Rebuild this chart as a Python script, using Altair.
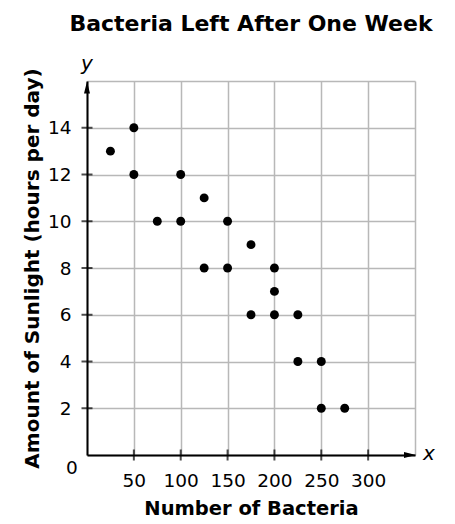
import altair as alt
import pandas as pd

# ---- data ----
bacteria = [25, 50, 50, 75, 100, 100, 125, 125, 150, 150, 175, 175, 200, 200, 200, 225, 225, 250, 250, 275]
sunlight = [13, 14, 12, 10, 12, 10, 11, 8, 10, 8, 9, 6, 8, 7, 6, 6, 4, 4, 2, 2]
x_tick_values = [50, 100, 150, 200, 250, 300]
y_tick_values = [2, 4, 6, 8, 10, 12, 14]
x_grid_values = [0, 50, 100, 150, 200, 250, 300, 350]
y_grid_values = [0, 2, 4, 6, 8, 10, 12, 14, 16]
x_max = 350
y_max = 16

FONT = "DejaVu Sans"
GRID = "#b8b8b8"

pts = pd.DataFrame({"x": bacteria, "y": sunlight})
xticks_df = pd.DataFrame({"v": x_tick_values, "z": [0] * len(x_tick_values)})
yticks_df = pd.DataFrame({"v": y_tick_values, "z": [0] * len(y_tick_values)})
top_arrow = pd.DataFrame({"x": [0], "y": [y_max]})
right_arrow = pd.DataFrame({"x": [x_max], "y": [0]})
ylab = pd.DataFrame({"x": [0], "y": [y_max], "t": ["y"]})
xlab = pd.DataFrame({"x": [x_max], "y": [0], "t": ["x"]})
zlab = pd.DataFrame({"x": [0], "y": [0], "t": ["0"]})

xs = alt.Scale(domain=[0, x_max], nice=False, zero=False)
ys = alt.Scale(domain=[0, y_max], nice=False, zero=False)

x_axis = alt.Axis(
    values=x_grid_values,
    labelExpr="(datum.value == 0 || datum.value == 350) ? '' : datum.label",
    grid=True, gridColor=GRID, gridWidth=1.5,
    ticks=False, domainColor="black", domainWidth=2,
    labelFont=FONT, labelFontSize=18.5, labelColor="black", labelPadding=16,
    title="Number of Bacteria", titleFont=FONT, titleFontSize=19.5,
    titleFontWeight="bold", titleColor="black", titlePadding=10,
)
y_axis = alt.Axis(
    values=y_grid_values,
    labelExpr="(datum.value == 0 || datum.value == 16) ? '' : datum.label",
    grid=True, gridColor=GRID, gridWidth=1.5,
    ticks=False, domainColor="black", domainWidth=2,
    labelFont=FONT, labelFontSize=18.5, labelColor="black", labelPadding=16,
    title="Amount of Sunlight (hours per day)", titleFont=FONT, titleFontSize=20,
    titleFontWeight="bold", titleColor="black", titlePadding=5,
)

points = alt.Chart(pts).mark_circle(size=80, color="black", opacity=1).encode(
    x=alt.X("x:Q", scale=xs, axis=x_axis),
    y=alt.Y("y:Q", scale=ys, axis=y_axis),
)

xt = alt.Chart(xticks_df).mark_tick(orient="vertical", size=11, thickness=2, color="black").encode(
    x=alt.X("v:Q", scale=xs), y=alt.Y("z:Q", scale=ys)
)
yt = alt.Chart(yticks_df).mark_tick(orient="horizontal", size=11, thickness=2, color="black").encode(
    y=alt.Y("v:Q", scale=ys), x=alt.X("z:Q", scale=xs)
)

up = alt.Chart(top_arrow).mark_point(
    shape="M0,-1L0.5,1L-0.5,1Z", size=144, filled=True, color="black", opacity=1, yOffset=6.5
).encode(x=alt.X("x:Q", scale=xs), y=alt.Y("y:Q", scale=ys))
right = alt.Chart(right_arrow).mark_point(
    shape="M1,0L-1,0.5L-1,-0.5Z", size=144, filled=True, color="black", opacity=1, xOffset=-5
).encode(x=alt.X("x:Q", scale=xs), y=alt.Y("y:Q", scale=ys))

t_y = alt.Chart(ylab).mark_text(font=FONT, fontSize=20, fontStyle="italic", color="black", dy=-17).encode(
    x=alt.X("x:Q", scale=xs), y=alt.Y("y:Q", scale=ys), text="t:N")
t_x = alt.Chart(xlab).mark_text(font=FONT, fontSize=20, fontStyle="italic", color="black", dx=14, dy=-1).encode(
    x=alt.X("x:Q", scale=xs), y=alt.Y("y:Q", scale=ys), text="t:N")
t_0 = alt.Chart(zlab).mark_text(font=FONT, fontSize=18.5, color="black", dx=-15, dy=13).encode(
    x=alt.X("x:Q", scale=xs), y=alt.Y("y:Q", scale=ys), text="t:N")

chart = alt.layer(points, xt, yt, up, right, t_y, t_x, t_0).properties(
    width=328, height=374,
    title=alt.Title("Bacteria Left After One Week", font=FONT, fontSize=22,
                    fontWeight="bold", color="black", anchor="middle", offset=18),
    autosize=alt.AutoSizeParams(type="none"),
    padding={"left": 79, "top": 73, "right": 32, "bottom": 72},
).configure_view(strokeWidth=0)

chart.save("out.html", embed_options={"renderer": "svg", "actions": False})
